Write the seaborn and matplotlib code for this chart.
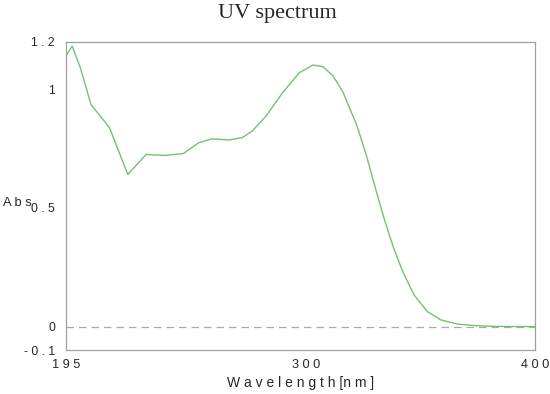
import numpy as np
import pandas as pd
import seaborn as sns
import matplotlib.pyplot as plt

comprimento_onda = [195, 197.7, 201.5, 205.9, 214, 222, 230, 238.2, 246.3, 252.9, 258.8,
                    266.2, 272, 276.4, 282.4, 289.7, 297, 302.9, 307.3, 311.7, 316.1,
                    322, 326, 330, 334, 338, 342, 347, 352.9, 358.8,
                    366.2, 373.5, 380, 390, 400]
absorbancia = [1.140, 1.182, 1.084, 0.936, 0.838, 0.641, 0.725, 0.721, 0.729, 0.774, 0.791,
               0.786, 0.796, 0.824, 0.887, 0.986, 1.070, 1.102, 1.095, 1.056, 0.986,
               0.850, 0.730, 0.590, 0.455, 0.335, 0.235, 0.134, 0.063, 0.028,
               0.010, 0.004, 0.001, 0.0, 0.0]

xticks = [195, 300, 400]
xticklabels = ['1 9 5', '3 0 0', '4 0 0']
yticks = [-0.1, 0, 0.5, 1, 1.2]
yticklabels = ['- 0 . 1', '0', '0 . 5', '1', '1 . 2']

df = pd.DataFrame({'wl': comprimento_onda, 'abs': absorbancia})

sns.set_style('white')
plt.rcParams['font.family'] = ['Liberation Sans', 'DejaVu Sans']

fig = plt.figure(figsize=(5.5, 3.94), dpi=100)
ax = fig.add_axes([0.12, 0.111, 0.853, 0.783])

ax.axhline(0, color='#aaaaaa', lw=0.9, ls=(0, (6, 4)), zorder=1)
sns.lineplot(data=df, x='wl', y='abs', ax=ax, color='#74c174', lw=1.0, zorder=2)

ax.set_xlim(195, 400)
ax.set_ylim(-0.1, 1.2)
ax.set_xticks(xticks)
ax.set_xticklabels(xticklabels, fontsize=9.2)
ax.set_xticks([200, 250, 350], minor=True)
ax.set_yticks(yticks)
ax.set_yticklabels(yticklabels, fontsize=8.8)
ax.set_yticks([0.25, 0.75], minor=True)
ax.tick_params(which='both', direction='in', length=5, width=0.8, color='#aaaaaa')
ax.tick_params(axis='x', which='both', pad=6)
ax.tick_params(axis='y', which='both', pad=8)

for s in ax.spines.values():
    s.set_color('#a0a0a0')
    s.set_linewidth(0.9)

ax.set_xlabel('W a v e l e n g t h [n m ]', fontsize=10, labelpad=4)
ax.set_ylabel('')
fig.text(3 / 550, 1 - 203 / 394, 'A b s', fontsize=9.3, ha='left', va='center')

fig.suptitle('UV spectrum', x=0.505, y=0.99, fontsize=16,
             family='Liberation Serif', va='top')

plt.savefig('out.png', dpi=100)
